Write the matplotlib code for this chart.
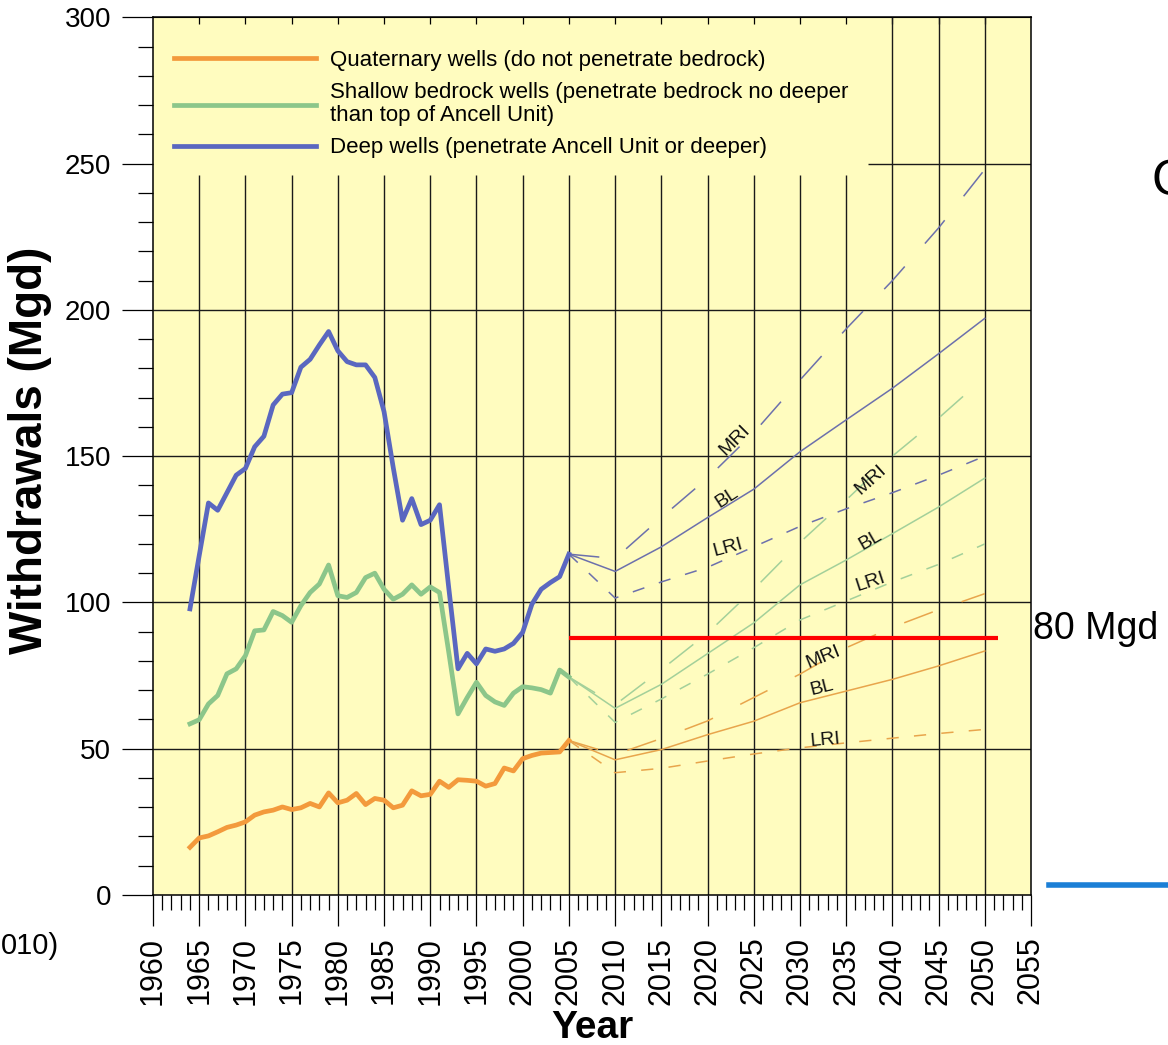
import numpy as np
import matplotlib
matplotlib.use("Agg")
import matplotlib.pyplot as plt
from matplotlib.lines import Line2D

plt.rcParams['font.family'] = ['Liberation Sans', 'DejaVu Sans']

# historical withdrawals, Mgd
years = list(range(1964, 2006))
deep = [97.8, 116, 134, 131.5, 137.5, 143.5, 145.8, 153.2, 156.8, 167.5,
        171.2, 171.7, 180.4, 183.1, 188, 192.6, 186, 182.3, 181.2, 181.2,
        176.9, 165.2, 146, 128.1, 135.5, 126.6, 128.1, 133.4, 105, 77.3,
        82.6, 79.0, 84.1, 83.3, 84.1, 86.0, 89.8, 99.4, 104.5, 106.8,
        108.8, 116.5]
shallow = [58.5, 59.9, 65.3, 68.2, 75.6, 77.3, 81.8, 90.3, 90.6, 96.9,
           95.5, 93.2, 98.9, 103.4, 106.3, 112.8, 102.3, 101.7, 103.4, 108.5,
           110.0, 104.5, 101.1, 102.8, 106.0, 102.8, 105.3, 103.4, 83, 61.9,
           67.5, 72.7, 68.2, 66, 64.8, 69, 71.2, 70.8, 70.2, 69.0,
           76.9, 74.5]
quaternary = [16.3, 19.5, 20.2, 21.6, 23.1, 23.9, 25.0, 27.3, 28.4, 29.0,
              30.1, 29.2, 29.8, 31.3, 30.1, 34.9, 31.5, 32.4, 34.7, 30.9,
              33.0, 32.4, 29.8, 30.7, 35.6, 33.9, 34.4, 38.9, 36.8, 39.4,
              39.2, 38.9, 37.2, 38.1, 43.4, 42.4, 46.6, 47.7, 48.5, 48.7,
              48.9, 52.8]

# projections (BL = baseline, MRI / LRI = more / less resource intensive)
proj_years = [2005, 2010, 2015, 2020, 2025, 2030, 2035, 2040, 2045, 2050]
deep_bl = [116.5, 110.6, 119, 129, 138.7, 151.5, 162.4, 173.2, 185, 197.1]
deep_mri = [116.5, 115, 129, 142.5, 158, 176, 193.5, 210, 228, 248]
deep_lri = [116.5, 101.5, 107, 112, 119, 126, 132, 137.5, 143.5, 150]
shallow_bl = [74.5, 63.8, 72, 82.5, 93, 106, 114.5, 123.5, 132.6, 142.5]
shallow_mri = [74.5, 65, 77, 89.5, 104.5, 120.5, 135, 150, 163, 177]
shallow_lri = [74.5, 59, 67, 75.5, 84.5, 94, 100.5, 107, 113, 120]
quat_bl = [52.8, 46.2, 49.7, 54.8, 59.4, 65.7, 69.7, 73.7, 78.3, 83.4]
quat_mri = [52.8, 48, 53.5, 59.5, 67.5, 75.5, 84.5, 91.5, 97.5, 103]
quat_lri = [52.8, 41.8, 43.3, 45.8, 48.2, 50.3, 52, 53.6, 55.2, 56.6]

# scenario labels: (text, year, value, rotation)
scenario_labels = [
    ("MRI", 2023.0, 155.5, 45), ("BL", 2022.1, 135.7, 33), ("LRI", 2022.2, 118.6, 15),
    ("MRI", 2037.6, 141.8, 42), ("BL", 2037.6, 121.3, 30), ("LRI", 2037.6, 107.0, 18),
    ("MRI", 2032.5, 81.3, 22), ("BL", 2032.4, 70.7, 14), ("LRI", 2032.7, 53.0, 5),
]

threshold = 88
threshold_span = (2005, 2051.4)

bg = '#fffcbf'
c_quat = '#f39a3c'
c_shal = '#8cc68a'
c_deep = '#5a67c0'
p_quat = '#e8a54c'
p_shal = '#a3d09a'
p_deep = '#6c70ac'

fig = plt.figure(figsize=(11.68, 10.45), dpi=100)
ax = fig.add_axes([153 / 1168, 1 - 895 / 1045, 878 / 1168, 877.7 / 1045])
ax.set_facecolor(bg)
ax.set_xlim(1960, 2055)
ax.set_ylim(0, 300)

# grid drawn by hand so the legend area stays clear
grid_years = np.arange(1965, 2055, 5)
for gy in grid_years:
    top = 246 if gy <= 2035 else 300
    ax.vlines(gy, 0, top, color='#1a1a1a', lw=1.0, zorder=1)
for gv in [50, 100, 150, 200]:
    ax.hlines(gv, 1960, 2055, color='#1a1a1a', lw=1.0, zorder=1)
ax.hlines(250, 2037.4, 2055, color='#1a1a1a', lw=1.0, zorder=1)

mri_ls = (0, (20, 20))
lri_ls = (0, (8, 10))
for bl, mri, lri, c in [(deep_bl, deep_mri, deep_lri, p_deep),
                        (shallow_bl, shallow_mri, shallow_lri, p_shal),
                        (quat_bl, quat_mri, quat_lri, p_quat)]:
    ax.plot(proj_years, bl, color=c, lw=1.1, zorder=2)
    ax.plot(proj_years, mri, color=c, lw=1.1, ls=mri_ls, zorder=2)
    ax.plot(proj_years, lri, color=c, lw=1.1, ls=lri_ls, zorder=2)

ax.plot(years, quaternary, color=c_quat, lw=3.4, zorder=3,
        label='Quaternary wells (do not penetrate bedrock)')
ax.plot(years, shallow, color=c_shal, lw=3.4, zorder=3,
        label='Shallow bedrock wells (penetrate bedrock no deeper\nthan top of Ancell Unit)')
ax.plot(years, deep, color=c_deep, lw=3.4, zorder=3,
        label='Deep wells (penetrate Ancell Unit or deeper)')

for txt, yx, yv, rot in scenario_labels:
    ax.text(yx, yv, txt, fontsize=14, rotation=rot, ha='center', va='center',
            color='#111111', zorder=4)

leg = ax.legend(loc='upper left', bbox_to_anchor=(0.024, 0.9625), frameon=False,
                fontsize=16, handlelength=6.4, handletextpad=0.6,
                labelspacing=0.5, borderpad=0, borderaxespad=0)
for t in leg.get_texts():
    t.set_linespacing(1.12)

# red threshold line and its note
ax.hlines(threshold, *threshold_span, color='#ff0000', lw=3, zorder=5, clip_on=False)
ax.text(2055.2, 91, '80 Mgd', fontsize=27, ha='left', va='center', clip_on=False)

# ticks
ax.set_xticks(np.arange(1960, 2056, 5))
ax.set_xticks(np.arange(1960, 2056, 1), minor=True)
ax.set_yticks(np.arange(0, 301, 50))
ax.set_yticks(np.arange(0, 301, 10), minor=True)
ax.tick_params(axis='both', which='major', direction='out', length=22, width=0.9,
               labelsize=20, pad=8)
ax.tick_params(axis='x', which='major', labelsize=22, labelrotation=90, pad=8)
ax.tick_params(axis='both', which='minor', direction='out', length=11, width=0.9)
for s in ax.spines.values():
    s.set_linewidth(1.1)

top = ax.secondary_xaxis('top')
top.set_xticks(np.arange(1965, 2055, 5))
top.tick_params(direction='in', length=5, width=0.9, labeltop=False)

ax.set_ylabel('Withdrawals (Mgd)', fontsize=33, fontweight='bold')
ax.yaxis.set_label_coords(-0.14, 0.507)
ax.set_xlabel('Year', fontsize=28, fontweight='bold')
ax.xaxis.set_label_coords(0.5, -0.152)
ax.xaxis.label.set_va('center')
ax.yaxis.label.set_va('center')

# bits of the surrounding slide that show at the edges
fig.text(59 / 1168, 1 - 946 / 1045, '010)', fontsize=21, ha='right', va='center')
fig.text(1152 / 1168, 1 - 182 / 1045, 'C', fontsize=36, ha='left', va='center')
fig.add_artist(Line2D([1049 / 1168, 1.0], [1 - 885 / 1045] * 2, color='#1b7fd6', lw=4))

fig.savefig('out.png', dpi=100)
